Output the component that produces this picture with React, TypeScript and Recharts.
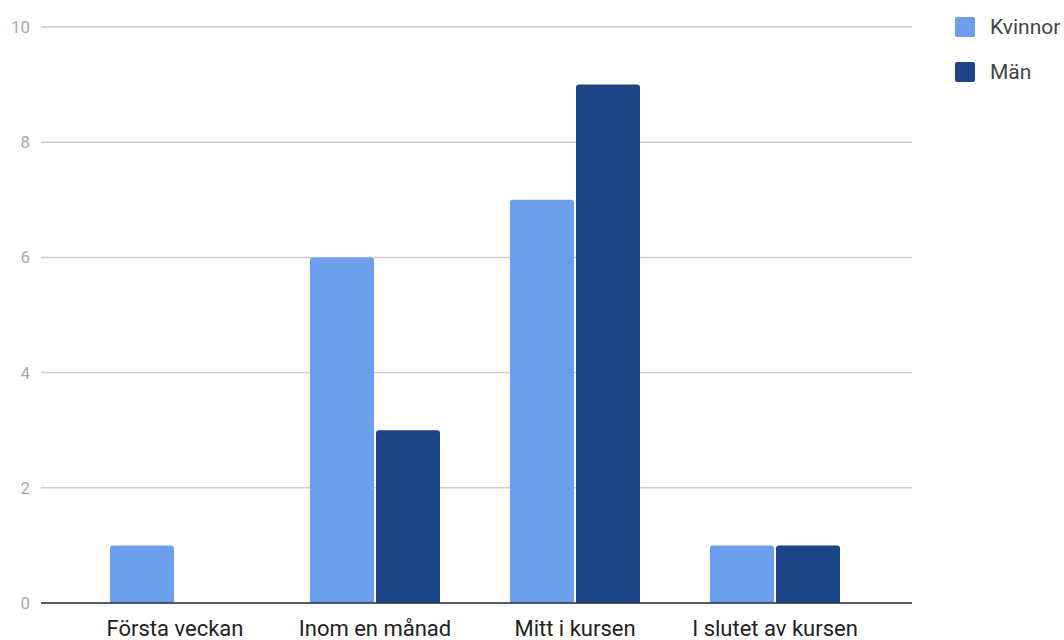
import React from 'react';
import { BarChart, Bar, XAxis, YAxis, CartesianGrid } from 'recharts';

const categories = ['Första veckan', 'Inom en månad', 'Mitt i kursen', 'I slutet av kursen'];
const kvinnor = [1, 6, 7, 1];
const man = [0, 3, 9, 1];
const yTicks = [0, 2, 4, 6, 8, 10];

const series = [
  { key: 'kvinnor', name: 'Kvinnor', color: '#6d9eeb' },
  { key: 'man', name: 'Män', color: '#1c4587' },
];

const data = categories.map((c, i) => ({ name: c, kvinnor: kvinnor[i], man: man[i] }));

const FONT = 'Roboto, sans-serif';

// legend is drawn outside the chart so it does not shrink the plot area
const LegendBox = () => (
  <div style={{ position: 'absolute', left: 955, top: 17, fontFamily: FONT }}>
    {series.map((s, i) => (
      <div
        key={s.key}
        style={{ display: 'flex', alignItems: 'center', height: 20, marginBottom: i === 0 ? 25 : 0 }}
      >
        <div style={{ width: 20, height: 20, borderRadius: 2, background: s.color, marginRight: 15 }} />
        <span style={{ fontSize: 21, color: '#444' }}>{s.name}</span>
      </div>
    ))}
  </div>
);

export default function App() {
  return (
    <div style={{ position: 'absolute', left: 0, top: 0, width: 1064, height: 640, background: '#fff' }}>
      <BarChart
        width={1064}
        height={640}
        data={data}
        margin={{ top: 27, right: 152, left: 0, bottom: 0 }}
        barCategoryGap={35}
        barGap={2}
      >
        <CartesianGrid vertical={false} stroke="#cccccc" strokeWidth={1.5} />
        <XAxis
          dataKey="name"
          height={37}
          padding={{ left: 34, right: 37 }}
          axisLine={{ stroke: '#333333', strokeWidth: 1.5 }}
          tickLine={false}
          tickSize={0}
          tickMargin={17}
          tick={{ fontFamily: FONT, fontSize: 22, fill: '#222222' }}
          interval={0}
        />
        <YAxis
          width={41}
          domain={[0, 10]}
          ticks={yTicks}
          axisLine={false}
          tickLine={false}
          tickSize={0}
          tickMargin={11}
          tick={{ fontFamily: FONT, fontSize: 17, fill: '#aaaaaa' }}
        />
        {series.map((s) => (
          <Bar
            key={s.key}
            dataKey={s.key}
            name={s.name}
            fill={s.color}
            radius={[3, 3, 0, 0]}
            isAnimationActive={false}
          />
        ))}
      </BarChart>
      <LegendBox />
    </div>
  );
}
